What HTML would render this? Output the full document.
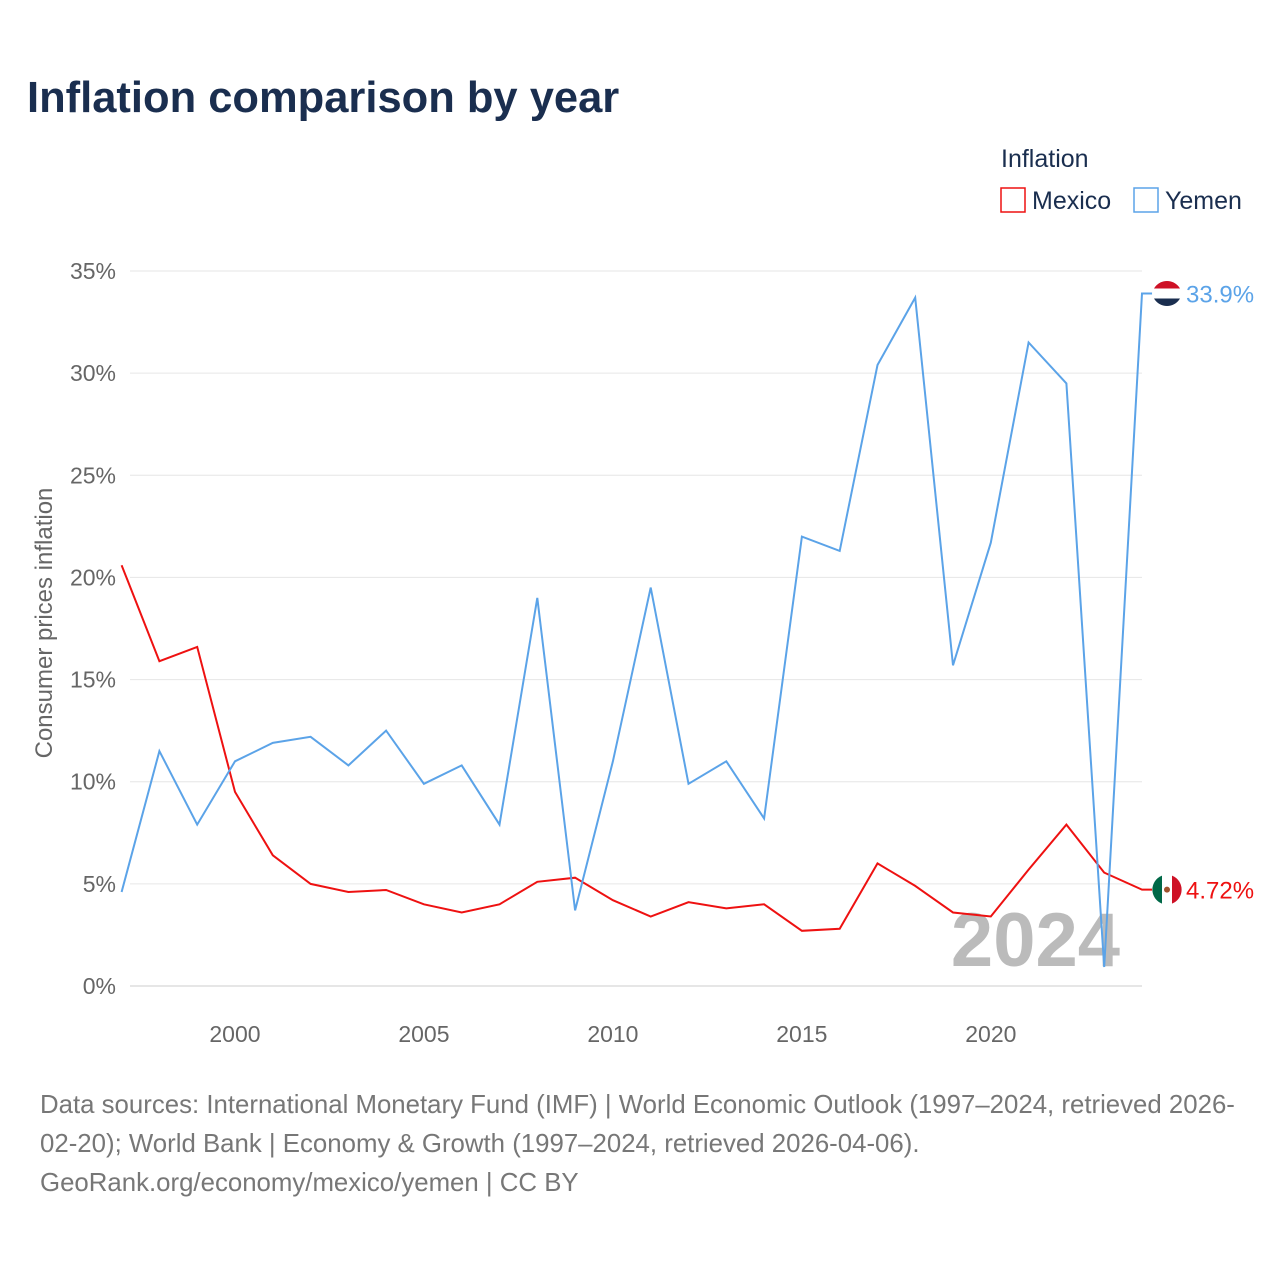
<!DOCTYPE html>
<html><head><meta charset="utf-8"><style>
body{margin:0;background:#fff;font-family:"Liberation Sans",sans-serif;}
</style></head><body>
<svg width="1280" height="1280" viewBox="0 0 1280 1280" xmlns="http://www.w3.org/2000/svg">
<text x="27" y="112" font-size="43.5" font-weight="bold" fill="#1a2e4f">Inflation comparison by year</text>
<text x="1001" y="167" font-size="25" fill="#1a2e4f">Inflation</text>
<g><rect x="1001" y="188" width="24" height="24" fill="none" stroke="#ee1111" stroke-width="1.5"/><text x="1032" y="209" font-size="25" fill="#1a2e4f">Mexico</text></g>
<g><rect x="1134" y="188" width="24" height="24" fill="none" stroke="#5ba3e8" stroke-width="1.5"/><text x="1165" y="209" font-size="25" fill="#1a2e4f">Yemen</text></g>
<g id="grid"></g>
<text x="52" y="623" font-size="24" fill="#666" transform="rotate(-90 52 623)" text-anchor="middle">Consumer prices inflation</text>
<text x="1120" y="966" font-size="76" font-weight="bold" fill="#bbb" text-anchor="end">2024</text>
<g id="series"></g>
<text x="40" y="1113" font-size="25.8" fill="#777">Data sources: International Monetary Fund (IMF) | World Economic Outlook (1997–2024, retrieved 2026-</text>
<text x="40" y="1152" font-size="25.8" fill="#777">02-20); World Bank | Economy &amp; Growth (1997–2024, retrieved 2026-04-06).</text>
<text x="40" y="1191" font-size="25.8" fill="#777">GeoRank.org/economy/mexico/yemen | CC BY</text>
</svg>
<script>
const years=[1997,1998,1999,2000,2001,2002,2003,2004,2005,2006,2007,2008,2009,2010,2011,2012,2013,2014,2015,2016,2017,2018,2019,2020,2021,2022,2023,2024];
const mexico=[20.6,15.9,16.6,9.5,6.4,5.0,4.6,4.7,4.0,3.6,4.0,5.1,5.3,4.2,3.4,4.1,3.8,4.0,2.7,2.8,6.0,4.9,3.6,3.4,5.7,7.9,5.55,4.72];
const yemen=[4.6,11.5,7.9,11.0,11.9,12.2,10.8,12.5,9.9,10.8,7.9,19.0,3.7,11.0,19.5,9.9,11.0,8.2,22.0,21.3,30.4,33.7,15.7,21.7,31.5,29.5,0.93,33.9];
const yTicks=[0,5,10,15,20,25,30,35];
const xTicks=[2000,2005,2010,2015,2020];
const NS="http://www.w3.org/2000/svg";
const X=y=>121.6+(y-1997)*(1142-121.6)/27;
const Y=v=>986-v*715/35;
const grid=document.getElementById('grid'),ser=document.getElementById('series');
function mk(t,a,p){const e=document.createElementNS(NS,t);for(const k in a)e.setAttribute(k,a[k]);p.appendChild(e);return e;}
yTicks.forEach(v=>{
 const l=mk('line',{x1:130,x2:1142,y1:Y(v),y2:Y(v),stroke:v===0?'#ccc':'#e6e6e6','stroke-width':1},grid);
 
 
 const t=mk('text',{x:116,y:Y(v)+8,'font-size':23,fill:'#666','text-anchor':'end'},grid);t.textContent=v+'%';
 
 
});
xTicks.forEach(y=>{
 const t=mk('text',{x:X(y),y:1042,'font-size':23,fill:'#666','text-anchor':'middle'},grid);t.textContent=y;
 
 
});
function line(vals,col,name,label,flag){
 const d=vals.map((v,i)=>(i?'L':'M')+X(years[i]).toFixed(1)+','+Y(v).toFixed(1)).join(' ')+' L'+(X(2024)+25)+','+Y(vals[vals.length-1]).toFixed(1);
 const p=mk('path',{d:d,fill:'none',stroke:col,'stroke-width':2},ser);
 
 
 const ly=Y(vals[vals.length-1]);
 const g=mk('g',{},ser);
 
 
 flag(g,1167,ly);
 const t=mk('text',{x:1186,y:ly+9,'font-size':24,fill:col},ser);t.textContent=label;
 
 
}
line(mexico,'#ee1111','mexico-line','4.72%',(g,cx,cy)=>{
 mk('circle',{cx:cx,cy:cy,r:15,fill:'#fff'},g);
 mk('path',{d:`M${cx-5},${cy-14} A15,15 0 0,0 ${cx-5},${cy+14} Z`,fill:'#006847'},g);
 mk('path',{d:`M${cx+5},${cy-14} A15,15 0 0,1 ${cx+5},${cy+14} Z`,fill:'#ce1126'},g);
 mk('circle',{cx:cx,cy:cy,r:3,fill:'#a0522d'},g);
});
line(yemen,'#5ba3e8','yemen-line','33.9%',(g,cx,cy)=>{
 mk('circle',{cx:cx,cy:cy,r:15,fill:'#fff'},g);
 mk('path',{d:`M${cx-13},${cy-5} A15,15 0 0,1 ${cx+13},${cy-5} Z`,fill:'#ce1126'},g);
 mk('path',{d:`M${cx-13},${cy+5} A15,15 0 0,0 ${cx+13},${cy+5} Z`,fill:'#1a2e4f'},g);
});
</script>
</body></html>
